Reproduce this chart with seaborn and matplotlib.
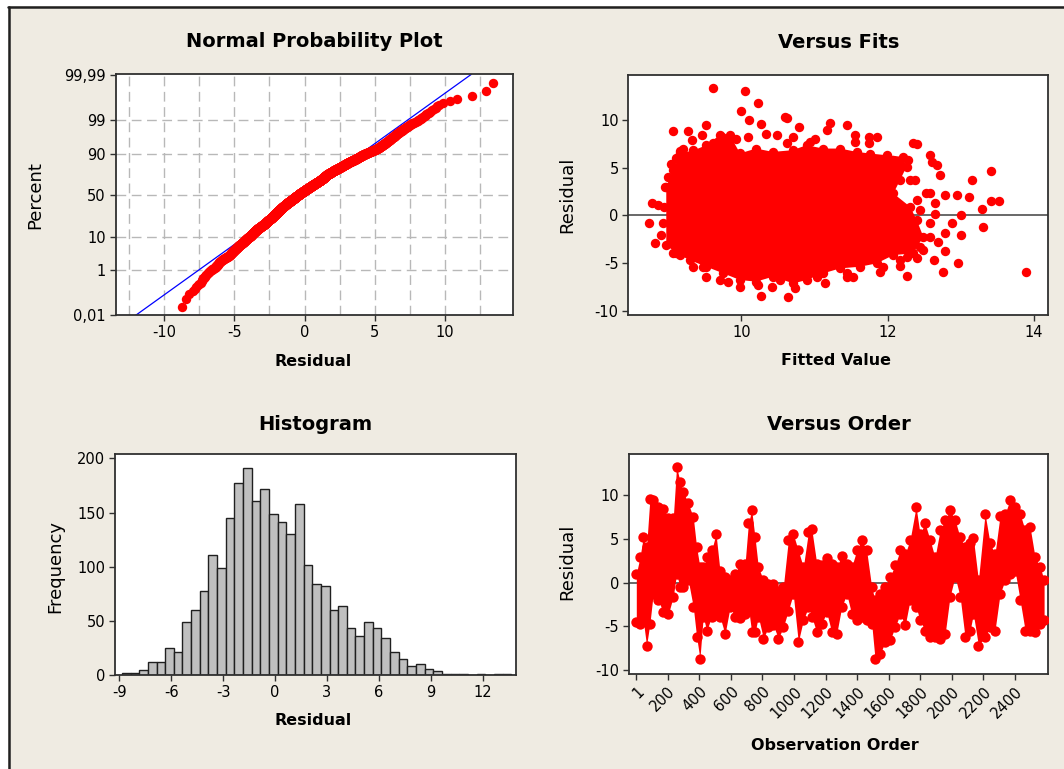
import numpy as np
import pandas as pd
import matplotlib
matplotlib.use("Agg")
import matplotlib.pyplot as plt
from matplotlib.lines import Line2D
from matplotlib.patches import Rectangle
from matplotlib.ticker import FixedLocator, FixedFormatter
import seaborn as sns
from statistics import NormalDist

# ---------------- data ----------------
# Histogram of residuals (bin centers, width 0.5)
hist_centers = [-8.6, -8.1, -7.6, -7.1, -6.6, -6.1, -5.6, -5.1, -4.6, -4.1,
                -3.6, -3.1, -2.6, -2.1, -1.6, -1.1, -0.6, -0.1, 0.4, 0.9,
                1.4, 1.9, 2.4, 2.9, 3.4, 3.9, 4.4, 4.9, 5.4, 5.9,
                6.4, 6.9, 7.4, 7.9, 8.4, 8.9, 9.4, 9.9, 10.4, 10.9,
                11.4, 11.9, 12.4, 12.9, 13.4]
hist_counts = [2, 2, 5, 12, 12, 25, 21, 49, 60, 78,
               111, 99, 145, 177, 191, 161, 172, 149, 141, 130,
               158, 102, 84, 82, 60, 64, 43, 36, 49, 43,
               34, 21, 15, 8, 10, 6, 4, 1, 1, 1,
               0, 1, 0, 1, 1]
bin_width = 0.5

# Versus Fits: outline of the dense core and the scattered outer points
core_fit = [8.97, 9.16, 9.34, 9.52, 9.70, 9.84, 9.98, 10.20, 10.43, 10.70,
            10.89, 11.12, 11.35, 11.58, 11.76, 11.99, 12.21, 12.26, 12.17, 12.08,
            12.31, 12.40, 12.49, 12.35, 12.08, 11.85, 11.62, 11.35, 11.12, 10.89,
            10.71, 10.43, 10.20, 9.98, 9.75, 9.52, 9.29, 9.11, 8.97]
core_res = [3.0, 6.5, 6.8, 7.35, 8.4, 8.4, 6.5, 7.0, 6.65, 6.83,
            7.35, 7.0, 7.0, 6.65, 6.48, 6.3, 6.13, 5.09, 3.69, 2.3,
            0.9, -0.5, -2.23, -3.97, -4.15, -5.02, -5.37, -5.54, -6.06, -6.76,
            -7.11, -6.41, -6.93, -6.76, -6.06, -5.37, -4.67, -3.97, -3.1]
out_fit = [9.61, 10.05, 10.23, 9.99, 10.10, 9.06, 9.27, 9.52, 9.46, 10.59,
           10.62, 10.79, 10.49, 10.27, 11.21, 11.17, 11.44, 11.74, 11.85, 11.55,
           11.00, 12.35, 12.40, 12.58, 12.61, 12.67, 12.72, 13.15, 13.42, 12.79,
           12.95, 13.11, 13.42, 13.52, 13.01, 13.29, 13.31, 13.01, 12.88, 12.79,
           12.79, 12.97, 12.76, 13.90, 12.26, 12.17, 11.89, 12.26, 12.40, 12.63,
           11.53, 11.44, 11.14, 10.73, 10.63, 10.42, 10.27, 10.23, 9.82, 9.52,
           9.47, 9.16, 8.81, 8.74, 8.77, 8.86, 8.95, 9.06, 9.11, 9.16,
           12.40, 12.58, 12.44, 12.65, 12.58, 12.44,
           9.20, 9.32, 9.61, 9.73, 9.93, 10.09, 10.34, 10.62, 10.71, 10.94,
           11.55, 11.74, 12.08, 12.28, 12.31, 12.37, 12.53, 12.65, 12.58, 12.69,
           12.49, 12.17, 11.94, 11.44, 11.03, 10.53, 9.98, 9.70, 9.34, 9.06,
           8.90, 8.93, 8.94, 9.00, 9.04]
out_res = [13.38, 13.0, 11.78, 10.94, 9.97, 8.82, 8.82, 9.44, 8.4, 10.3,
           10.24, 9.27, 8.4, 9.6, 9.72, 8.92, 9.44, 8.22, 8.22, 8.4,
           8.05, 7.6, 7.46, 6.3, 5.61, 5.26, 4.22, 3.76, 4.63, 2.13,
           2.13, 1.95, 1.5, 1.5, 0.03, 0.66, -1.25, -2.06, -0.77, -1.88,
           -3.69, -5.02, -5.89, -5.89, -6.31, -5.26, -5.89, -4.32, -4.42, -4.67,
           -6.41, -6.41, -7.11, -7.63, -8.57, -7.46, -8.43, -7.28, -6.93, -6.48,
           -5.37, -4.15, -2.93, -0.77, 1.32, 1.08, 3.0, 4.74, 5.96, 6.72,
           1.6, 2.3, 0.56, 0.2, -2.23, -3.28,
           7.0, 7.87, 7.53, 8.22, 8.05, 8.22, 8.57, 7.53, 8.22, 7.7,
           7.7, 7.53, 5.78, 5.78, 3.69, 3.69, 2.3, 1.25, -0.84, -2.75,
           -3.62, -4.67, -5.37, -6.06, -6.41, -6.76, -7.46, -6.76, -5.37, -3.97,
           -2.06, -0.84, 0.9, 4.04, 5.43]

# Versus Order: upper and lower extent of the residual trace
order_obs = [1, 24, 45, 66, 87, 108, 140, 172, 204, 235,
             256, 278, 299, 330, 362, 383, 404, 425, 447, 478,
             506, 531, 563, 595, 626, 658, 690, 711, 732, 753,
             774, 806, 837, 869, 901, 932, 964, 995, 1027, 1059,
             1091, 1112, 1144, 1175, 1207, 1239, 1270, 1302, 1334, 1365,
             1397, 1429, 1460, 1492, 1513, 1545, 1577, 1608, 1640, 1672,
             1704, 1735, 1773, 1798, 1830, 1862, 1893, 1925, 1957, 1988,
             2020, 2052, 2083, 2115, 2136, 2168, 2210, 2242, 2273, 2305,
             2337, 2368, 2400, 2432, 2464, 2495, 2527, 2559, 2584]
order_upper = [1.0, 2.9, 5.2, 4.1, 9.6, 9.5, 8.7, 8.5, 7.4, 7.4,
               13.3, 11.6, 10.4, 9.1, 7.5, 4.1, 1.8, 1.8, 2.9, 3.7,
               5.6, 1.4, 0.7, 0.3, 1.0, 2.2, 2.2, 6.8, 8.3, 5.2,
               1.8, 0.3, -0.1, -0.1, -0.9, -0.5, 4.9, 5.6, 3.7, 1.8,
               5.8, 6.2, 2.2, 2.0, 2.8, 2.2, 1.8, 3.1, 2.2, 1.8,
               3.7, 4.9, 3.7, -0.5, -2.0, -1.3, -0.5, 0.7, 2.0, 3.7,
               3.3, 4.9, 8.7, 5.6, 6.8, 4.9, 2.9, 6.0, 7.2, 8.3,
               7.2, 5.2, 4.1, 4.5, 5.1, 0.3, 7.9, 4.5, 3.3, 7.7,
               7.9, 9.5, 8.7, 7.9, 6.0, 6.4, 2.9, 1.8, 0.3]
order_lower = [-4.5, -4.7, -4.3, -7.2, -4.7, -1.3, -2.0, -3.4, -3.6, -1.6,
               1.0, -0.5, -0.5, 0.3, -2.8, -6.2, -8.7, -3.9, -5.5, -3.9,
               -3.6, -3.9, -5.9, -2.8, -3.9, -4.1, -3.6, -2.8, -5.7, -5.7,
               -3.9, -6.4, -5.1, -4.9, -6.4, -5.1, -3.2, -1.3, -6.8, -4.3,
               -2.8, -3.9, -5.7, -4.7, -3.4, -5.7, -5.9, -2.8, -1.3, -3.6,
               -4.3, -3.9, -4.3, -4.7, -8.7, -8.2, -6.8, -6.6, -5.1, -3.6,
               -4.9, -2.0, -2.8, -4.3, -5.5, -6.2, -6.2, -6.4, -5.9, -1.6,
               0.7, -1.6, -6.2, -5.5, -3.6, -7.2, -6.2, -5.1, -5.5, -1.3,
               0.3, 1.0, 1.4, -2.0, -5.5, -5.5, -5.7, -4.7, -4.3]

npp_tick_pct = [0.01, 1, 10, 50, 90, 99, 99.99]
npp_tick_lab = ["0,01", "1", "10", "50", "90", "99", "99,99"]
order_ticks = [1, 200, 400, 600, 800, 1000, 1200, 1400, 1600, 1800, 2000, 2200, 2400]

# ---------------- derived residuals (spread evenly inside each bin) ----------------
resid = []
for c, n in zip(hist_centers, hist_counts):
    lo = c - bin_width / 2
    resid.extend(lo + (np.arange(n) + 0.5) / max(n, 1) * bin_width)
resid = np.sort(np.array(resid))
N = len(resid)
nd = NormalDist()
pct = (np.arange(1, N + 1) - 0.3) / (N + 0.4)
zvals = np.array([nd.inv_cdf(p) for p in pct])
mu, sd = resid.mean(), resid.std(ddof=1)

# ---------------- style ----------------
sns.set_theme(style="white")
plt.rcParams["font.family"] = ["DejaVu Sans"]
plt.rcParams["axes.unicode_minus"] = False
plt.rcParams["text.color"] = "black"
plt.rcParams["axes.labelcolor"] = "black"
BG = "#EFEBE2"
RED = "#FF0000"
TICK_FS = 10.5
YLAB_FS = 13
XLAB_FS = 11.5
TITLE_FS = 14
MS = 46

fig = plt.figure(figsize=(10.64, 7.69), dpi=100)
fig.patch.set_facecolor("white")
fig.patches.append(Rectangle((8 / 1064, 0), 1, 1 - 6 / 769, transform=fig.transFigure,
                             facecolor=BG, edgecolor="none", zorder=-10))
fig.lines.append(Line2D([8 / 1064, 1], [1 - 7 / 769, 1 - 7 / 769], transform=fig.transFigure,
                        color="#202020", lw=1.8))
fig.lines.append(Line2D([9 / 1064, 9 / 1064], [0, 1 - 7 / 769], transform=fig.transFigure,
                        color="#202020", lw=1.8))

ax1 = fig.add_axes([0.1087, 0.590, 0.3731, 0.3134])
ax2 = fig.add_axes([0.5905, 0.590, 0.3947, 0.3125])
ax3 = fig.add_axes([0.1081, 0.1222, 0.3769, 0.2874])
ax4 = fig.add_axes([0.5912, 0.1231, 0.3941, 0.2865])


def style_axes(ax):
    ax.set_facecolor("white")
    for s in ax.spines.values():
        s.set_color("#303030")
        s.set_linewidth(1.3)
        s.set_visible(True)
    ax.tick_params(axis="both", which="both", direction="out", length=4, width=1,
                   color="#303030", labelsize=TICK_FS, labelcolor="black", pad=3,
                   bottom=True, left=True)


def labels(ax, title, xl, yl, xy_x, xy_y, yy_x, yy_y=0.5, xbold=True, ybold=False):
    ax.set_title(title, fontsize=TITLE_FS, fontweight="bold", y=1.135, va="center",
                 pad=0, color="black")
    ax.set_xlabel(xl, fontsize=XLAB_FS, fontweight="bold" if xbold else "normal")
    ax.xaxis.label.set_va("center")
    ax.xaxis.set_label_coords(xy_x, xy_y)
    ax.set_ylabel(yl, fontsize=YLAB_FS, fontweight="bold" if ybold else "normal")
    ax.yaxis.label.set_va("center")
    ax.yaxis.set_label_coords(yy_x, yy_y)


# ---- Normal probability plot ----
style_axes(ax1)
zlo, zhi = nd.inv_cdf(0.0001), nd.inv_cdf(0.9999) + 0.02
ax1.set_xlim(-13.46, 14.83)
ax1.set_ylim(zlo, zhi)
gx = np.arange(-12.5, 12.6, 2.5)
for g in gx:
    ax1.axvline(g, color="#B8B8B8", lw=1, ls=(0, (7, 4)), zorder=0)
for p in npp_tick_pct[1:-1]:
    ax1.axhline(nd.inv_cdf(p / 100), color="#B8B8B8", lw=1, ls=(0, (7, 4)), zorder=0)
zline = np.array([zlo, zhi])
sns.lineplot(x=mu + sd * zline, y=zline, ax=ax1, color="blue", lw=0.9, sort=False, zorder=2)
sns.scatterplot(x=resid, y=zvals, ax=ax1, color=RED, s=MS, linewidth=0, zorder=3)
ax1.xaxis.set_major_locator(FixedLocator([-10, -5, 0, 5, 10]))
ax1.yaxis.set_major_locator(FixedLocator([nd.inv_cdf(p / 100) for p in npp_tick_pct]))
ax1.yaxis.set_major_formatter(FixedFormatter(npp_tick_lab))
labels(ax1, "Normal Probability Plot", "Residual", "Percent", 0.497, -0.19, -0.203)

# ---- Versus Fits ----
style_axes(ax2)
ax2.set_xlim(8.45, 14.2)
ax2.set_ylim(-10.45, 14.7)
ax2.axhline(0, color="#404040", lw=1.1, zorder=0)
ax2.fill(core_fit, core_res, color=RED, lw=0, zorder=2)
fits_df = pd.DataFrame({"fit": core_fit + out_fit, "res": core_res + out_res})
sns.scatterplot(data=fits_df, x="fit", y="res", ax=ax2, color=RED, s=MS, linewidth=0, zorder=3)
ax2.xaxis.set_major_locator(FixedLocator([10, 12, 14]))
ax2.yaxis.set_major_locator(FixedLocator([-10, -5, 0, 5, 10]))
labels(ax2, "Versus Fits", "Fitted Value", "Residual", 0.4945, -0.19, -0.146)

# ---- Histogram ----
style_axes(ax3)
edges = np.append(np.array(hist_centers) - bin_width / 2, hist_centers[-1] + bin_width / 2)
hist_df = pd.DataFrame({"center": hist_centers, "count": hist_counts})
sns.histplot(data=hist_df, x="center", weights="count", bins=list(edges), ax=ax3,
             color="#C0C0C0", edgecolor="#202020", linewidth=1, alpha=1)
ax3.set_xlim(-9.25, 13.93)
ax3.set_ylim(0, 204)
ax3.xaxis.set_major_locator(FixedLocator([-9, -6, -3, 0, 3, 6, 9, 12]))
ax3.yaxis.set_major_locator(FixedLocator([0, 50, 100, 150, 200]))
labels(ax3, "Histogram", "Residual", "Frequency", 0.494, -0.204, -0.15, 0.489)

# ---- Versus Order ----
style_axes(ax4)
ax4.set_xlim(-45, 2611)
ax4.set_ylim(-10.5, 14.75)
ax4.axhline(0, color="#404040", lw=1.1, zorder=0)
ax4.fill_between(order_obs, order_lower, order_upper, color=RED, lw=0, zorder=2)
ord_df = pd.DataFrame({"obs": order_obs + order_obs, "res": order_upper + order_lower})
sns.scatterplot(data=ord_df, x="obs", y="res", ax=ax4, color=RED, s=MS + 10, linewidth=0, zorder=3)
ax4.xaxis.set_major_locator(FixedLocator(order_ticks))
ax4.yaxis.set_major_locator(FixedLocator([-10, -5, 0, 5, 10]))
for lab in ax4.get_xticklabels():
    lab.set_rotation(45)
    lab.set_ha("right")
    lab.set_rotation_mode("anchor")
labels(ax4, "Versus Order", "Observation Order", "Residual", 0.491, -0.325, -0.148, 0.51)

fig.savefig("out.png", dpi=100, facecolor=fig.get_facecolor())
